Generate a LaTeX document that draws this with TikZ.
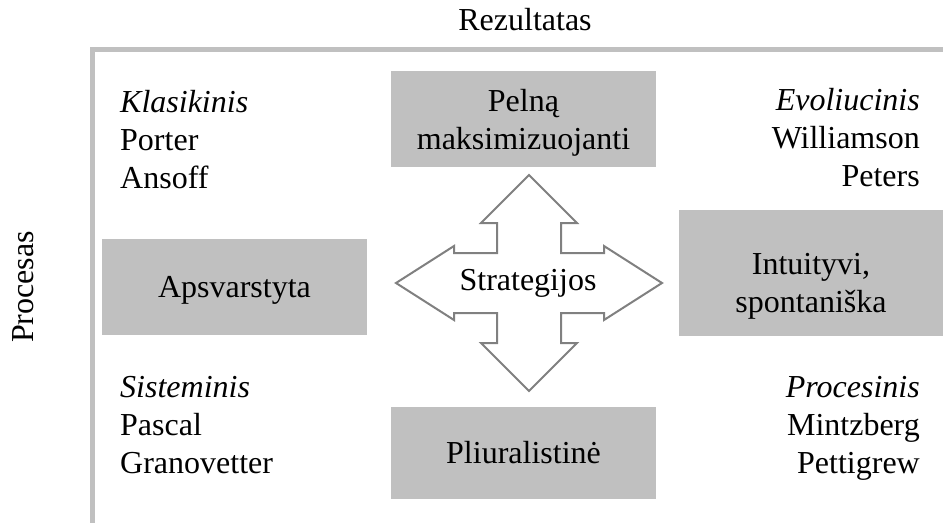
\documentclass[tikz,border=0pt]{standalone}
\usepackage{fontspec}
\setmainfont{Liberation Serif}
\definecolor{boxgray}{HTML}{C0C0C0}
\definecolor{arrowgray}{HTML}{808080}
\begin{document}
\begin{tikzpicture}[x=1pt,y=-1pt,
  every node/.style={font=\fontsize{32}{38}\selectfont, inner sep=0pt},
  ctr/.style={align=center, anchor=base},
  lbl/.style={align=left, anchor=base west},
  rbl/.style={align=right, anchor=base east},
  axis/.style={draw=boxgray, line width=4.5pt, line join=miter},
  quad/.style={draw=arrowgray, line width=2pt, fill=white, line join=miter}]
\useasboundingbox (0,0) rectangle (943,523);
% axes
\coordinate (axR) at (943,49.5);
\coordinate (axC) at (92.5,49.5);
\coordinate (axB) at (92.5,523);
\draw[axis] (axR) -- (axC) -- (axB);
\node[anchor=base] (rez) at (525,30) {Rezultatas};
\node[rotate=90, anchor=base] (proc) at (33,287) {Procesas};
% boxes
\path[fill=boxgray] (391,71) rectangle (656,167);
\node[ctr] (pel) at (523.5,149) {Pelną\\maksimizuojanti};
\path[fill=boxgray] (102,239) rectangle (367,335);
\node[ctr] (aps) at (234.5,297) {Apsvarstyta};
\path[fill=boxgray] (679,210) rectangle (943,336);
\node[ctr] (int) at (811,312) {Intuityvi,\\spontaniška};
\path[fill=boxgray] (391,407) rectangle (656,499);
\node[ctr] (pli) at (523.5,463) {Pliuralistinė};
% quad arrow
\draw[quad] (529,175) -- (577,223) -- (561,223) -- (561,253) -- (604,253) -- (604,246)
  -- (662,283) -- (604,320) -- (604,313) -- (561,313) -- (561,343) -- (577,343)
  -- (529,391) -- (481,343) -- (497,343) -- (497,313) -- (454,313) -- (454,320)
  -- (396,283) -- (454,246) -- (454,253) -- (497,253) -- (497,223) -- (481,223) -- cycle;
\node[ctr] (str) at (528,290) {Strategijos};
% corner labels
\node[lbl] (kl) at (120,188) {\textit{Klasikinis}\\Porter\\Ansoff};
\node[rbl] (ev) at (920,186) {\textit{Evoliucinis}\\Williamson\\Peters};
\node[lbl] (si) at (120,473) {\textit{Sisteminis}\\Pascal\\Granovetter};
\node[rbl] (pr) at (920,473) {\textit{Procesinis}\\Mintzberg\\Pettigrew};
\end{tikzpicture}
\end{document}
